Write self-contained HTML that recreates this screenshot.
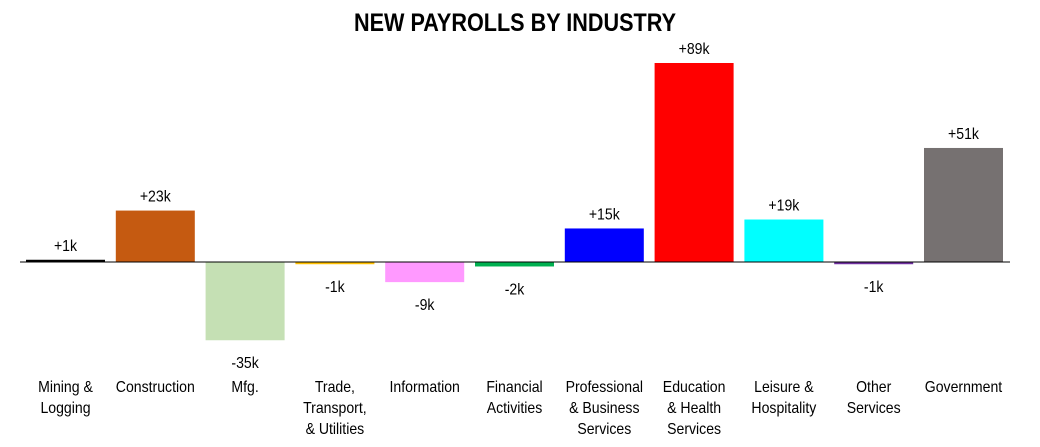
<!DOCTYPE html>
<html><head><meta charset="utf-8"><style>
html,body{margin:0;padding:0;background:#fff;}
svg{display:block;font-family:"Liberation Sans Narrow","Liberation Sans",Arial,sans-serif;}
</style></head><body>
<svg id="chart" width="1040" height="447" viewBox="0 0 1040 447" xmlns="http://www.w3.org/2000/svg">
<text x="515" y="31" text-anchor="middle" font-size="25" font-weight="bold" textLength="322" lengthAdjust="spacingAndGlyphs" fill="#000">NEW PAYROLLS BY INDUSTRY</text>
<g id="bars"></g>
<line x1="20" x2="1010" y1="262" y2="262" stroke="#000" stroke-width="1"/>
</svg>
<script>
const categories = [["Mining &","Logging"],["Construction"],["Mfg."],["Trade,","Transport,","& Utilities"],["Information"],["Financial","Activities"],["Professional","& Business","Services"],["Education","& Health","Services"],["Leisure &","Hospitality"],["Other","Services"],["Government"]];
const values = [1,23,-35,-1,-9,-2,15,89,19,-1,51];
const colors = ["#000000","#c55a11","#c5e0b4","#ffc000","#ff99ff","#00b050","#0000ff","#ff0000","#00ffff","#7030a0","#767171"];
const NS="http://www.w3.org/2000/svg";
const baseY=262, pxPerK=2.236, x0=26, step=89.8, bw=79;
function yScale(v){return baseY - v*pxPerK;}
function xScale(i){return x0 + i*step;}
const g=document.getElementById('bars');
values.forEach((v,i)=>{
  const x=xScale(i), y1=yScale(Math.max(v,0)), y2=yScale(Math.min(v,0));
  const cx=x+bw/2;
  const squeeze='translate('+cx+',0) scale(0.88,1) translate('+(-cx)+',0)';
  const r=document.createElementNS(NS,'rect');
  
  
  r.setAttribute('x',x); r.setAttribute('y',y1);
  r.setAttribute('width',bw); r.setAttribute('height',Math.max(y2-y1,2));
  r.setAttribute('fill',colors[i]);
  g.appendChild(r);
  const t=document.createElementNS(NS,'text');
  
  
  t.setAttribute('x',cx);
  t.setAttribute('y', v>=0 ? y1-9 : Math.max(y2,yScale(-1))+28);
  t.setAttribute('text-anchor','middle');
  t.setAttribute('font-size','16');
  t.setAttribute('transform',squeeze);
  t.textContent=(v>=0?'+':'')+v+'k';
  g.appendChild(t);
  const c=document.createElementNS(NS,'text');
  
  
  c.setAttribute('text-anchor','middle');
  c.setAttribute('font-size','16');
  c.setAttribute('transform',squeeze);
  categories[i].forEach((line,j)=>{
    const s=document.createElementNS(NS,'tspan');
    s.setAttribute('x',cx);
    s.setAttribute('y',392+j*21);
    s.textContent=line;
    c.appendChild(s);
  });
  g.appendChild(c);
});
</script>
</body></html>
